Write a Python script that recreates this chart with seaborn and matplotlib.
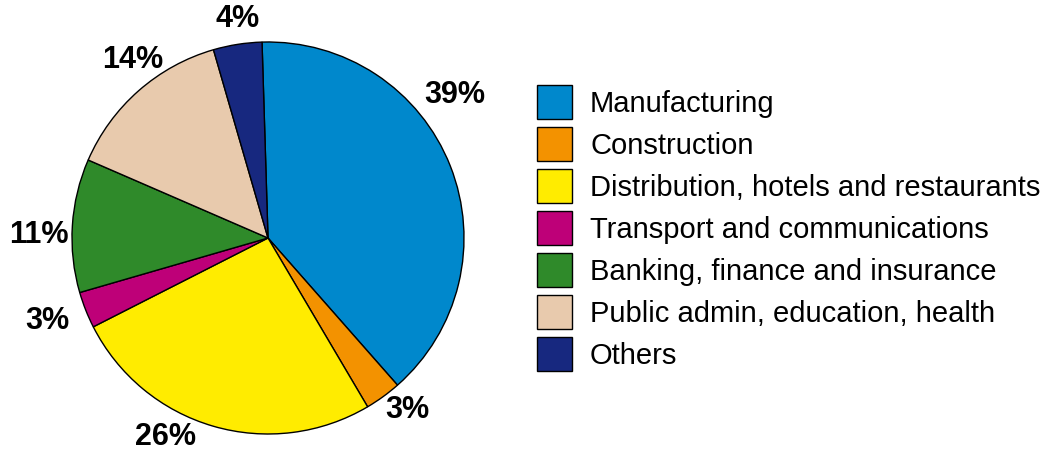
import numpy as np
import matplotlib
matplotlib.use("Agg")
import matplotlib.pyplot as plt
import seaborn as sns
from matplotlib.patches import Patch

# sector shares (%)
sectors = ["Manufacturing", "Construction", "Distribution, hotels and restaurants",
           "Transport and communications", "Banking, finance and insurance",
           "Public admin, education, health", "Others"]
shares = [39, 3, 26, 3, 11, 14, 4]
colors = ["#0088CC", "#F39200", "#FFEC00", "#BE0078", "#2F8A2A", "#E8CAAD", "#17287F"]

# small tweaks so the % labels sit where the original puts them
label_angle_shift = [16, 3, -11, -1, 3, -4, -1]
label_radius = [1.20, 1.13, 1.14, 1.20, 1.17, 1.14, 1.13]

sns.set_theme(style="white")
plt.rcParams["font.family"] = ["Liberation Sans", "DejaVu Sans"]
plt.rcParams["text.color"] = "black"

fig = plt.figure(figsize=(10.43, 4.5), dpi=100)
ax = fig.add_axes([72 / 1043, (450 - 238 - 196) / 450, 392 / 1043, 392 / 450])

start = 91.75
wedges, _ = ax.pie(shares, colors=colors, startangle=start, counterclock=False,
                   radius=1.0, wedgeprops=dict(edgecolor="black", linewidth=1.0))

# percentage labels outside the pie
for w, s, da, r in zip(wedges, shares, label_angle_shift, label_radius):
    mid = np.deg2rad((w.theta1 + w.theta2) / 2 + da)
    ax.text(r * np.cos(mid), r * np.sin(mid), f"{s}%", ha="center", va="center",
            fontsize=22, fontweight="bold", color="black")

ax.set_xlim(-1, 1)
ax.set_ylim(-1, 1)
ax.set_aspect("equal")
ax.axis("off")

handles = [Patch(facecolor=c, edgecolor="black", linewidth=1.0) for c in colors]
fs = 21
leg = fig.legend(handles, sectors, loc="upper left",
                 bbox_to_anchor=(537 / 1043, 1 - 85 / 450), frameon=False,
                 fontsize=fs, handlelength=1.2, handleheight=1.416,
                 labelspacing=0.274, handletextpad=0.62, borderpad=0, borderaxespad=0)
for t in leg.get_texts():
    t.set_color("black")

fig.savefig("out.png", dpi=100)
